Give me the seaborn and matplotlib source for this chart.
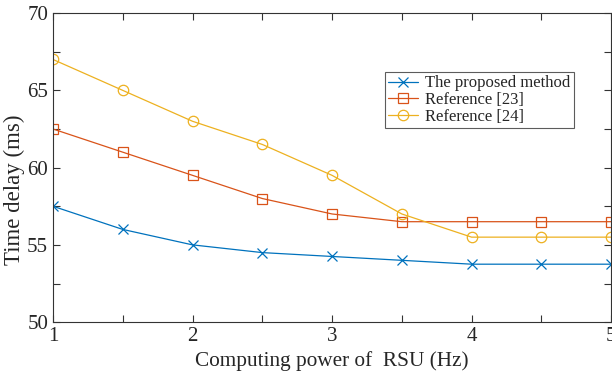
import matplotlib
matplotlib.use("Agg")
import matplotlib.pyplot as plt
import seaborn as sns
import pandas as pd
from matplotlib.ticker import MultipleLocator

x_vals = [1, 1.5, 2, 2.5, 3, 3.5, 4, 4.5, 5]
proposed = [57.5, 56, 55, 54.5, 54.25, 54, 53.75, 53.75, 53.75]
ref23 = [62.5, 61, 59.5, 58, 57, 56.5, 56.5, 56.5, 56.5]
ref24 = [67, 65, 63, 61.5, 59.5, 57, 55.5, 55.5, 55.5]
series_names = ["The proposed method", "Reference [23]", "Reference [24]"]

sns.set_theme(style="white")
plt.rcParams['font.family'] = ['Liberation Serif', 'DejaVu Serif']
plt.rcParams['mathtext.fontset'] = 'stix'

df = pd.DataFrame({
    "x": x_vals * 3,
    "y": proposed + ref23 + ref24,
    "series": [series_names[0]] * 9 + [series_names[1]] * 9 + [series_names[2]] * 9,
})

fig = plt.figure(figsize=(6.12, 3.75), dpi=100)
ax = fig.add_axes([0.0866, 0.141, 0.912, 0.824])

colors = ["#0072BD", "#D95319", "#EDB120"]
markers = ["x", "s", "o"]
for name, c, m in zip(series_names, colors, markers):
    sub = df[df["series"] == name]
    sns.lineplot(data=sub, x="x", y="y", ax=ax, color=c, lw=0.9, label=name,
                 marker=m, markersize=7.5 if m != "x" else 6.5,
                 markerfacecolor="none" if m != "x" else c,
                 markeredgecolor=c, markeredgewidth=0.9)

ax.set_xlim(1, 5)
ax.set_ylim(50, 70)
ax.xaxis.set_major_locator(MultipleLocator(1))
ax.xaxis.set_minor_locator(MultipleLocator(0.5))
ax.yaxis.set_major_locator(MultipleLocator(5))
ax.yaxis.set_minor_locator(MultipleLocator(2.5))
ax.tick_params(which="both", direction="in", top=True, right=True, bottom=True, left=True,
               labelsize=15, color="#333333")
ax.tick_params(which="major", length=5, width=0.8)
ax.tick_params(which="minor", length=5, width=0.8)
for s in ax.spines.values():
    s.set_color("#333333")
    s.set_linewidth(0.8)

ax.set_xlabel("Computing power of  RSU (Hz)", fontsize=15.3, labelpad=4)
ax.set_ylabel("Time delay (ms)", fontsize=16.5)
ax.yaxis.set_label_coords(-0.05, 0.427)

leg = ax.legend(loc="upper left", bbox_to_anchor=(0.595, 0.809), fontsize=12,
                frameon=True, fancybox=False, edgecolor="#333333",
                borderpad=0.2, labelspacing=0.05, handlelength=1.8, handletextpad=0.4,
                borderaxespad=0)
leg.get_frame().set_linewidth(0.8)

fig.savefig("out.png", dpi=100)
